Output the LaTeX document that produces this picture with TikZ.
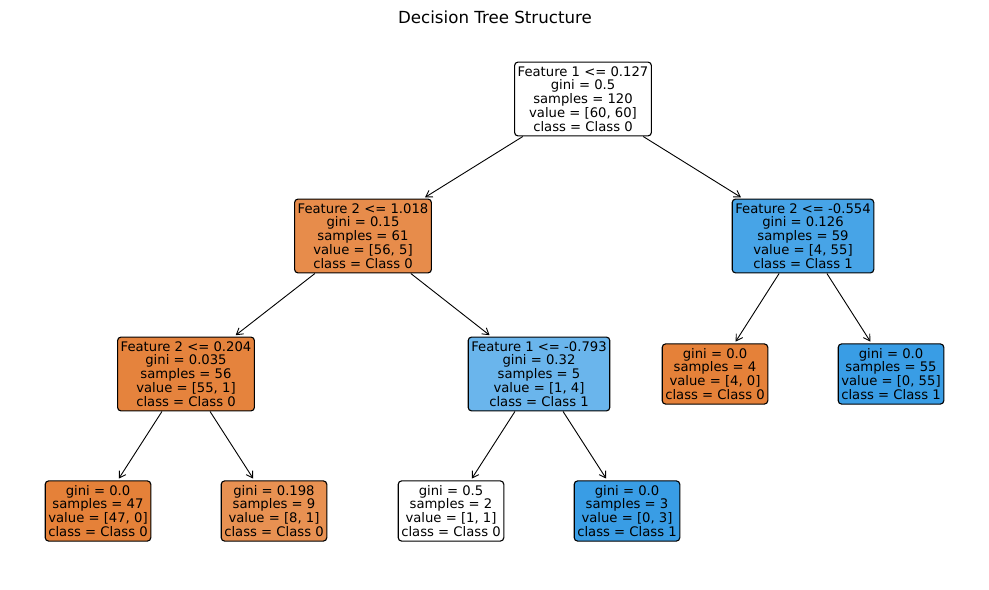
\documentclass[tikz,border=0pt]{standalone}
\usepackage{fontspec}
\setmainfont{DejaVu Sans}
\usetikzlibrary{arrows.meta}
\definecolor{c0}{RGB}{229,129,57}
\definecolor{c1}{RGB}{57,157,229}
\definecolor{cA}{RGB}{231,140,75}
\definecolor{cB}{RGB}{71,164,231}
\definecolor{cC}{RGB}{229,131,61}
\definecolor{cD}{RGB}{106,181,236}
\definecolor{cL2}{RGB}{232,145,82}
\tikzset{
  tnode/.style={draw=black, line width=0.8pt, rounded corners=2.5pt, align=center,
    font=\fontsize{9.5}{10}\selectfont, inner xsep=2.2pt, inner ysep=3pt},
  edge/.style={line width=0.65pt, -{Straight Barb[length=4.5pt,width=5.5pt]}, shorten >=1.5pt, shorten <=0pt}
}
\begin{document}
\begin{tikzpicture}[x=0.72pt, y=-0.72pt]
\useasboundingbox (0,0) rectangle (989,590);
\node[font=\fontsize{12}{14}\selectfont] (title) at (495,17) {Decision Tree Structure};
\node[tnode, fill=white] (root) at (583,99) {Feature 1 <= 0.127\\gini = 0.5\\samples = 120\\value = [60, 60]\\class = Class 0};
\node[tnode, fill=cA] (A) at (363,236) {Feature 2 <= 1.018\\gini = 0.15\\samples = 61\\value = [56, 5]\\class = Class 0};
\node[tnode, fill=cB] (B) at (803,236) {Feature 2 <= -0.554\\gini = 0.126\\samples = 59\\value = [4, 55]\\class = Class 1};
\node[tnode, fill=cC] (C) at (186,374) {Feature 2 <= 0.204\\gini = 0.035\\samples = 56\\value = [55, 1]\\class = Class 0};
\node[tnode, fill=cD] (D) at (539,374) {Feature 1 <= -0.793\\gini = 0.32\\samples = 5\\value = [1, 4]\\class = Class 1};
\node[tnode, fill=c0] (E) at (715,374) {gini = 0.0\\samples = 4\\value = [4, 0]\\class = Class 0};
\node[tnode, fill=c1] (F) at (891,374) {gini = 0.0\\samples = 55\\value = [0, 55]\\class = Class 1};
\node[tnode, fill=c0] (L1) at (98,511) {gini = 0.0\\samples = 47\\value = [47, 0]\\class = Class 0};
\node[tnode, fill=cL2] (L2) at (274,511) {gini = 0.198\\samples = 9\\value = [8, 1]\\class = Class 0};
\node[tnode, fill=white] (L3) at (451,511) {gini = 0.5\\samples = 2\\value = [1, 1]\\class = Class 0};
\node[tnode, fill=c1] (L4) at (627,511) {gini = 0.0\\samples = 3\\value = [0, 3]\\class = Class 1};
\draw[edge] (root) -- (A);
\draw[edge] (root) -- (B);
\draw[edge] (A) -- (C);
\draw[edge] (A) -- (D);
\draw[edge] (B) -- (E);
\draw[edge] (B) -- (F);
\draw[edge] (C) -- (L1);
\draw[edge] (C) -- (L2);
\draw[edge] (D) -- (L3);
\draw[edge] (D) -- (L4);
\end{tikzpicture}
\end{document}
